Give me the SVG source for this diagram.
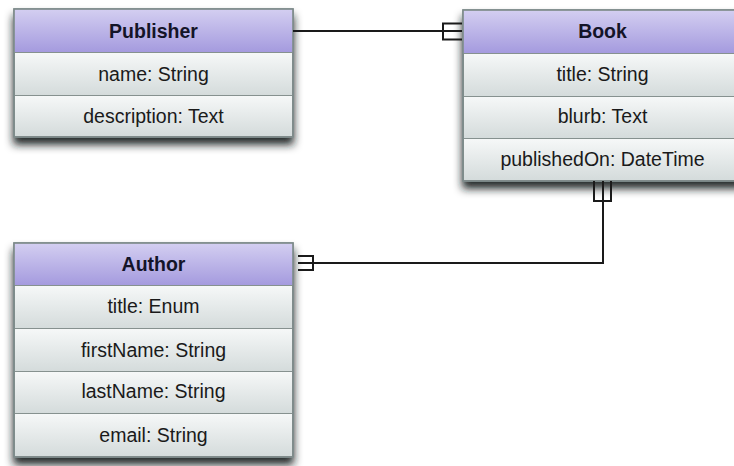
<svg xmlns="http://www.w3.org/2000/svg" width="734" height="466" viewBox="0 0 734 466">
<defs>
<linearGradient id="hdr" x1="0" y1="0" x2="0" y2="1">
<stop offset="0" stop-color="#d3cef1"/>
<stop offset="1" stop-color="#a49ade"/>
</linearGradient>
<linearGradient id="row" x1="0" y1="0" x2="0" y2="1">
<stop offset="0" stop-color="#f6f8f8"/>
<stop offset="1" stop-color="#d4dbdb"/>
</linearGradient>
<filter id="sh" x="-10%" y="-10%" width="120%" height="135%">
<feDropShadow dx="0" dy="7" stdDeviation="4.5" flood-color="#141c1c" flood-opacity="0.95"/>
</filter>
</defs>
<style>
.box{fill:#ffffff;stroke:#7e8a8a;stroke-width:1.5}
.h{fill:url(#hdr)}
.r{fill:url(#row);stroke:#86918f;stroke-width:1}
.ht{font-family:"Liberation Sans",Arial,sans-serif;font-size:19.5px;font-weight:bold;fill:#141428;text-anchor:middle}
.rt{font-family:"Liberation Sans",Arial,sans-serif;font-size:19.5px;fill:#1a1a1a;text-anchor:middle}
.c{fill:none;stroke:#1a1a1a;stroke-width:2}
</style>
<rect width="734" height="466" fill="#ffffff"/>

<g id="publisher">
<rect class="box" x="14" y="9" width="279" height="128" filter="url(#sh)"/>
<rect class="h" x="14.5" y="9.5" width="278" height="43"/>
<rect class="r" x="14.5" y="52.5" width="278" height="43"/>
<rect class="r" x="14.5" y="95.5" width="278" height="41"/>
<rect x="14" y="9" width="279" height="128" fill="none" stroke="#7e8a8a" stroke-width="1.5"/>
<text class="ht" x="153.5" y="38">Publisher</text>
<text class="rt" x="153.5" y="81">name: String</text>
<text class="rt" x="153.5" y="123">description: Text</text>
</g>

<g id="book">
<rect class="box" x="463" y="10" width="279" height="171" filter="url(#sh)"/>
<rect class="h" x="463.5" y="10.5" width="278" height="43"/>
<rect class="r" x="463.5" y="53.5" width="278" height="43"/>
<rect class="r" x="463.5" y="96.5" width="278" height="42"/>
<rect class="r" x="463.5" y="138.5" width="278" height="42"/>
<rect x="463" y="10" width="279" height="171" fill="none" stroke="#7e8a8a" stroke-width="1.5"/>
<text class="ht" x="602.5" y="38">Book</text>
<text class="rt" x="602.5" y="81">title: String</text>
<text class="rt" x="602.5" y="123">blurb: Text</text>
<text class="rt" x="602.5" y="166">publishedOn: DateTime</text>
</g>

<g id="author">
<rect class="box" x="14" y="243" width="279" height="214" filter="url(#sh)"/>
<rect class="h" x="14.5" y="243.5" width="278" height="42"/>
<rect class="r" x="14.5" y="285.5" width="278" height="43"/>
<rect class="r" x="14.5" y="328.5" width="278" height="43"/>
<rect class="r" x="14.5" y="371.5" width="278" height="42"/>
<rect class="r" x="14.5" y="413.5" width="278" height="43"/>
<rect x="14" y="243" width="279" height="214" fill="none" stroke="#7e8a8a" stroke-width="1.5"/>
<text class="ht" x="153.5" y="271">Author</text>
<text class="rt" x="153.5" y="313">title: Enum</text>
<text class="rt" x="153.5" y="357">firstName: String</text>
<text class="rt" x="153.5" y="398">lastName: String</text>
<text class="rt" x="153.5" y="442">email: String</text>
</g>

<g id="connectors">
<path class="c" d="M293 31 H462"/>
<path class="c" d="M462 23.5 H443 V39.5 H462"/>
<path class="c" d="M603 181 V263 H298"/>
<path class="c" d="M594 181 V201 H611 V181"/>
<path class="c" d="M298 256 H313 V270 H298"/>
</g>
</svg>
